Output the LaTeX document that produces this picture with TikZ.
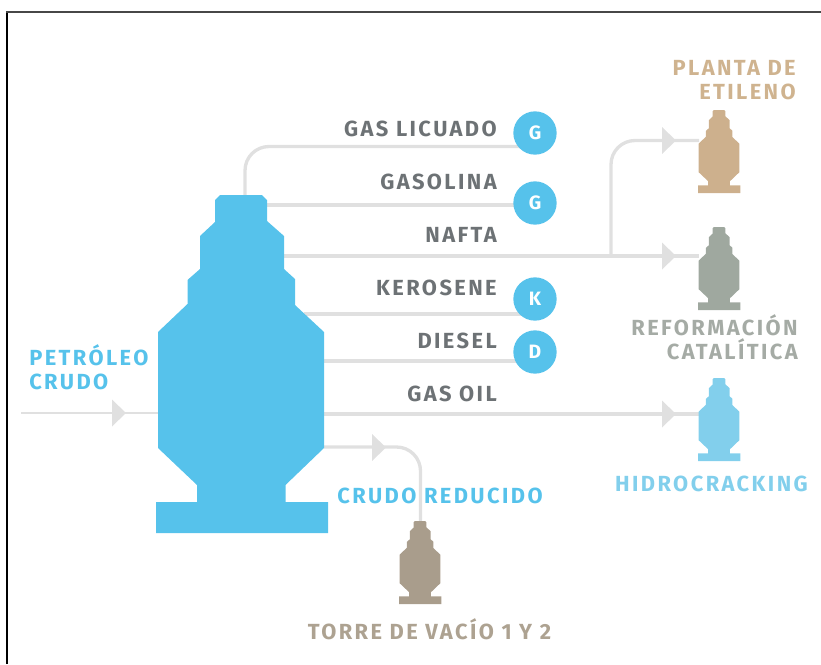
\documentclass[tikz,border=0pt]{standalone}
\usepackage{fontspec}
\setmainfont{Fira Sans}[LetterSpace=11]
\usetikzlibrary{backgrounds}
\definecolor{towerblue}{HTML}{56C2EB}
\definecolor{towersky}{HTML}{82CFEC}
\definecolor{towertan}{HTML}{CDB08D}
\definecolor{towersage}{HTML}{9FA89F}
\definecolor{towertaupe}{HTML}{A99D8C}
\definecolor{pipegray}{HTML}{E0E0E0}
\definecolor{labelgray}{HTML}{6D7275}
\definecolor{labelsage}{HTML}{A5ABA5}
\definecolor{labeltan}{HTML}{CFB38F}
\definecolor{labeltaupe}{HTML}{ADA291}
% Column silhouette, drawn about its top centre in tower units
\newcommand{\columnoutline}{%
  (-21,0) -- (21,0) -- (26,5) -- (26,26) -- (43,41) -- (43,74) -- (54,84) -- (54,110)
  -- (83,137) -- (83,253) -- (44.5,290) -- (44.5,307) -- (87,307) -- (87,338)
  -- (-85,338) -- (-85,307) -- (-44,307) -- (-44,290) -- (-83,253) -- (-83,137)
  -- (-53.5,109) -- (-53.5,85) -- (-41,74) -- (-41,41) -- (-26,27) -- (-26,5) -- cycle}
\tikzset{
  x=0.75pt,y=-0.75pt,
  pipe/.style={draw=pipegray,line width=2.5pt,rounded corners=18pt},
  feed/.style={draw=pipegray,line width=1.1pt},
  flowhead/.style={fill=pipegray,draw=none},
  product/.style={circle,fill=towerblue,minimum size=32.5pt,inner sep=0pt,text=white,font=\bfseries\fontsize{14.5}{14.5}\selectfont},
  stream/.style={anchor=base east,inner sep=0pt,text=labelgray,font=\bfseries\fontsize{16.4}{16.4}\selectfont},
  caption/.style={inner sep=0pt,font=\bfseries\fontsize{16.4}{18}\selectfont},
  pics/minitower/.style={code={\fill[#1,scale=0.2457] \columnoutline;}},
}
\newcommand{\flowarrow}[1]{\fill[flowhead] (#1) ++(-14,-13.5) -- ++(14,13.5) -- ++(-14,13.5) -- cycle;}
\begin{document}
\begin{tikzpicture}
\useasboundingbox (0,0) rectangle (821,664);
% page frame
\draw[black,line width=1.5pt] (7,664) -- (7,11.5);
\draw[black!72,line width=1.5pt] (6,12) -- (821,12);

% process units
\fill[towerblue,shift={(241,195)}] \columnoutline;
\coordinate (mainTop) at (245,196);
\coordinate (mainGasolina) at (267,205);
\coordinate (mainNafta) at (284,256);
\coordinate (mainKerosene) at (304,314);
\coordinate (mainDiesel) at (324,361);
\coordinate (mainGasOil) at (324,414);
\coordinate (mainResidue) at (324,447);
\coordinate (mainFeed) at (158.5,413);
\coordinate (feedStart) at (21,413);

\pic at (719,110) {minitower=towertan};
\pic at (719,227) {minitower=towersage};
\pic at (719,378) {minitower=towersky};
\pic at (420,521) {minitower=towertaupe};
\coordinate (etilenoIn) at (699,140.5);
\coordinate (reformadoIn) at (699,256);
\coordinate (hidroIn) at (699,414);
\coordinate (vacioIn) at (420.5,522);
\coordinate (naftaBranch) at (611,256);

% product markers
\node[product] (gG) at (535,133) {G};
\node[product] (gasolinaG) at (535,203) {G};
\node[product] (kK) at (535,299) {K};
\node[product] (dD) at (535,352) {D};

% pipes run underneath the units and markers
\begin{scope}[on background layer]
  \draw[pipe] (mainTop) |- (gG.center |- 0,146.5);
  \draw[pipe] (mainGasolina) -- (gasolinaG.center |- mainGasolina);
  \draw[pipe] (mainNafta) -- (reformadoIn);
  \draw[pipe] (naftaBranch) |- (etilenoIn);
  \draw[pipe] (mainKerosene) -- (kK.center |- mainKerosene);
  \draw[pipe] (mainDiesel) -- (dD.center |- mainDiesel);
  \draw[pipe] (mainGasOil) -- (hidroIn);
  \draw[pipe] (mainResidue) -| (vacioIn);
  \draw[feed] (feedStart) -- (mainFeed);
\end{scope}

% flow direction heads
\flowarrow{676,140.5}
\flowarrow{676,256}
\flowarrow{676,414}
\flowarrow{386,447.5}
\flowarrow{126,413}

% stream labels
\node[stream] (lGasLicuado) at (497,136) {GAS LICUADO};
\node[stream] (lGasolina) at (497,189) {GASOLINA};
\node[stream] (lNafta) at (497,242) {NAFTA};
\node[stream] (lKerosene) at (497,295.5) {KEROSENE};
\node[stream] (lDiesel) at (497,348) {DIESEL};
\node[stream] (lGasOil) at (497,401.5) {GAS OIL};

% unit captions
\node[caption,text=towerblue,align=left,anchor=north west] (lCrudo) at (29,344) {PETRÓLEO\\CRUDO};
\node[caption,text=labeltan,align=right,anchor=north east] (lEtileno) at (796,60) {PLANTA DE\\ETILENO};
\node[caption,text=labelsage,align=right,anchor=north east] (lReforma) at (798,314) {REFORMACIÓN\\CATALÍTICA};
\node[caption,text=towersky,anchor=base] (lHidro) at (711.5,491) {HIDROCRACKING};
\node[caption,text=towerblue,anchor=base] (lReducido) at (440,503) {CRUDO REDUCIDO};
\node[caption,text=labeltaupe,anchor=base] (lVacio) at (429.5,639) {TORRE DE VACÍO 1 Y 2};
\end{tikzpicture}
\end{document}
